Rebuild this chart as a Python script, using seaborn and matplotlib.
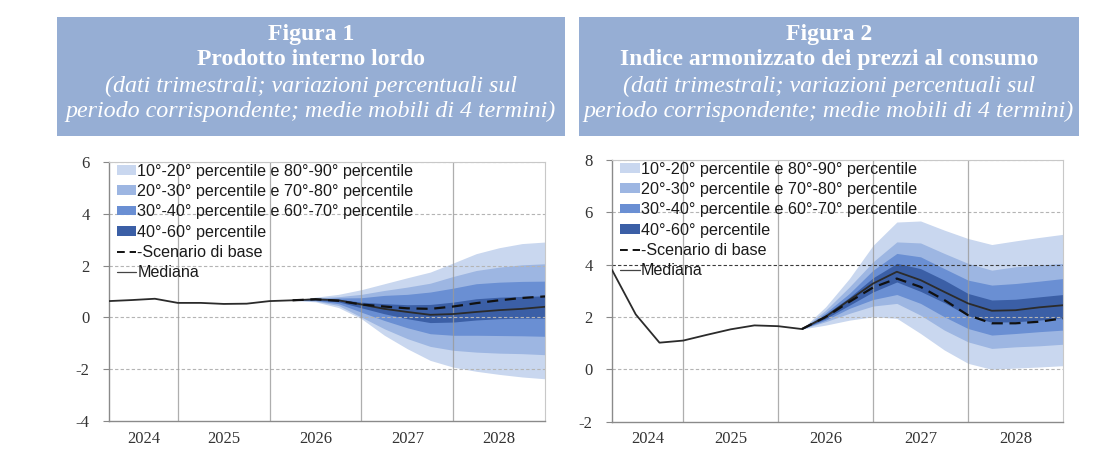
import numpy as np
import pandas as pd
import matplotlib
matplotlib.use("Agg")
import matplotlib.pyplot as plt
import seaborn as sns
from matplotlib.patches import Patch, Rectangle
from matplotlib.lines import Line2D

# ---------------- data ----------------
quarters = [f"{y}Q{q}" for y in range(2024, 2029) for q in range(1, 5)]  # 20 quarters
years = ["2024", "2025", "2026", "2027", "2028"]
fan_start = 8  # index of first quarter with fan chart (2026Q1)

# Figura 1 - PIL
gdp_median = [0.63, 0.67, 0.72, 0.56, 0.56, 0.52, 0.53, 0.63, 0.66, 0.70,
              0.66, 0.50, 0.33, 0.21, 0.10, 0.13, 0.21, 0.28, 0.33, 0.41]
gdp_base = [0.66, 0.70, 0.64, 0.50, 0.42, 0.35, 0.33, 0.42, 0.55, 0.66, 0.75, 0.81]
gdp_p90 = [0.66, 0.78, 0.89, 1.07, 1.30, 1.53, 1.75, 2.10, 2.46, 2.69, 2.85, 2.91]
gdp_p80 = [0.66, 0.75, 0.80, 0.89, 1.04, 1.17, 1.32, 1.58, 1.81, 1.94, 2.03, 2.07]
gdp_p70 = [0.66, 0.73, 0.75, 0.76, 0.85, 0.89, 0.98, 1.13, 1.30, 1.36, 1.39, 1.40]
gdp_p60 = [0.66, 0.71, 0.70, 0.59, 0.53, 0.49, 0.50, 0.59, 0.72, 0.78, 0.81, 0.83]
gdp_p40 = [0.66, 0.67, 0.60, 0.37, 0.14, -0.05, -0.20, -0.18, -0.10, -0.05, -0.03, -0.03]
gdp_p30 = [0.66, 0.65, 0.53, 0.20, -0.12, -0.40, -0.63, -0.69, -0.69, -0.70, -0.71, -0.73]
gdp_p20 = [0.66, 0.63, 0.46, 0.01, -0.44, -0.82, -1.12, -1.27, -1.34, -1.38, -1.40, -1.44]
gdp_p10 = [0.66, 0.60, 0.38, -0.05, -0.69, -1.21, -1.66, -1.92, -2.08, -2.20, -2.30, -2.37]

# Figura 2 - IPCA
hicp_median = [3.80, 2.10, 1.02, 1.10, 1.32, 1.53, 1.68, 1.65, 1.54, 2.01,
               2.65, 3.28, 3.73, 3.41, 2.96, 2.52, 2.24, 2.26, 2.37, 2.45]
hicp_base = [1.54, 2.00, 2.58, 3.13, 3.47, 3.15, 2.65, 2.07, 1.76, 1.76, 1.82, 1.95]
hicp_p90 = [1.54, 2.39, 3.47, 4.74, 5.63, 5.67, 5.32, 5.00, 4.77, 4.91, 5.04, 5.16]
hicp_p80 = [1.54, 2.26, 3.15, 4.11, 4.87, 4.83, 4.43, 4.05, 3.79, 3.92, 3.98, 4.05]
hicp_p70 = [1.54, 2.16, 2.90, 3.79, 4.43, 4.30, 3.85, 3.41, 3.22, 3.28, 3.37, 3.47]
hicp_p60 = [1.54, 2.10, 2.75, 3.50, 4.05, 3.85, 3.41, 2.90, 2.65, 2.68, 2.77, 2.86]
hicp_p40 = [1.54, 1.94, 2.45, 2.96, 3.34, 2.98, 2.55, 2.05, 1.80, 1.82, 1.88, 1.98]
hicp_p30 = [1.54, 1.88, 2.33, 2.67, 2.86, 2.52, 2.01, 1.56, 1.31, 1.37, 1.44, 1.50]
hicp_p20 = [1.54, 1.82, 2.14, 2.42, 2.52, 2.07, 1.50, 1.05, 0.80, 0.86, 0.90, 0.96]
hicp_p10 = [1.54, 1.69, 1.88, 2.01, 1.95, 1.37, 0.74, 0.23, 0.00, 0.05, 0.09, 0.14]

legend_labels = ["10°-20° percentile e 80°-90° percentile",
                 "20°-30° percentile e 70°-80° percentile",
                 "30°-40° percentile e 60°-70° percentile",
                 "40°-60° percentile",
                 "-Scenario di base",
                 "Mediana"]

titles = [("Figura 1", "Prodotto interno lordo"),
          ("Figura 2", "Indice armonizzato dei prezzi al consumo")]
subtitle = ["(dati trimestrali; variazioni percentuali sul",
            "periodo corrispondente; medie mobili di 4 termini)"]

# ---------------- style ----------------
sns.set_theme(style="white")
plt.rcParams["font.family"] = ["Liberation Serif", "DejaVu Serif"]

band_colors = ["#c9d7ef", "#9db6e2", "#6a8fd3", "#3b5fa6"]
header_color = "#96aed4"
W, H = 1107, 475

fig = plt.figure(figsize=(W / 100, H / 100), dpi=100)


def fx(px):
    return px / W


def fy(py):
    return 1 - py / H


ax1 = fig.add_axes([fx(109), fy(421), (545 - 109) / W, (421 - 162) / H])
ax2 = fig.add_axes([fx(612), fy(421.7), (1063 - 612) / W, (421.7 - 160) / H])


def draw(ax, median, base, bands, ylim, dark_line_at=None):
    x_all = np.arange(len(quarters))
    xf = x_all[fan_start:]
    p10, p20, p30, p40, p60, p70, p80, p90 = bands
    ax.fill_between(xf, p10, p90, color=band_colors[0], lw=0, zorder=1)
    ax.fill_between(xf, p20, p80, color=band_colors[1], lw=0, zorder=1.1)
    ax.fill_between(xf, p30, p70, color=band_colors[2], lw=0, zorder=1.2)
    ax.fill_between(xf, p40, p60, color=band_colors[3], lw=0, zorder=1.3)

    # horizontal grid
    for yv in range(ylim[0], ylim[1] + 1, 2):
        if yv in (ylim[0],):
            continue
        col, lw = "#b4b4b4", 0.8
        if dark_line_at is not None and yv == dark_line_at:
            col, lw = "#3a3a3a", 0.8
        ax.axhline(yv, color=col, lw=lw, ls=(0, (3, 2)), zorder=2)
    # vertical year separators
    for xv in [3, 7, 11, 15]:
        ax.axvline(xv, color="#9a9a9a", lw=0.9, alpha=0.8, zorder=2)

    df_med = pd.DataFrame({"x": x_all, "y": median})
    df_base = pd.DataFrame({"x": xf, "y": base})
    sns.lineplot(data=df_med, x="x", y="y", ax=ax, color="#2b2b2b", lw=1.3,
                 zorder=4, legend=False)
    sns.lineplot(data=df_base, x="x", y="y", ax=ax, color="#111111", lw=1.6,
                 zorder=4, legend=False)
    ax.lines[-1].set_dashes([5, 3])

    ax.set_xlim(0, len(quarters) - 1)
    ax.set_ylim(*ylim)
    ax.set_xlabel("")
    ax.set_ylabel("")
    ax.set_yticks(range(ylim[0], ylim[1] + 1, 2))
    ax.set_yticklabels([str(v) for v in range(ylim[0], ylim[1] + 1, 2)])
    ax.set_xticks([1.5, 5, 9, 13, 17])
    ax.set_xticklabels(years)
    ax.tick_params(axis="x", length=0, pad=7, labelsize=12, colors="#333333")
    ax.tick_params(axis="y", length=4, width=0.8, color="#888888", pad=10,
                   labelsize=12, colors="#333333", left=True)
    for s in ["top", "right"]:
        ax.spines[s].set_color("#c8c8c8")
        ax.spines[s].set_linewidth(0.8)
    for s in ["left", "bottom"]:
        ax.spines[s].set_color("#8a8a8a")
        ax.spines[s].set_linewidth(1.0)
    ax.set_facecolor("white")

    handles = [Patch(facecolor=c, edgecolor="none") for c in band_colors]
    handles += [Line2D([], [], color="#111111", lw=1.4, dashes=[4, 2.5]),
                Line2D([], [], color="#444444", lw=0.9)]
    leg = ax.legend(handles, legend_labels, loc="upper left",
                    bbox_to_anchor=(0.015, 1.0), frameon=False,
                    prop={"family": "Liberation Sans", "size": 11.6},
                    handlelength=1.2, handleheight=0.55, handletextpad=0.05,
                    labelspacing=0.33, borderpad=0.1, borderaxespad=0)
    for t in leg.get_texts():
        t.set_color("#1a1a1a")
    leg.set_zorder(5)


draw(ax1, gdp_median, gdp_base,
     (gdp_p10, gdp_p20, gdp_p30, gdp_p40, gdp_p60, gdp_p70, gdp_p80, gdp_p90),
     (-4, 6))
draw(ax2, hicp_median, hicp_base,
     (hicp_p10, hicp_p20, hicp_p30, hicp_p40, hicp_p60, hicp_p70, hicp_p80, hicp_p90),
     (-2, 8), dark_line_at=4)

# ---------------- header boxes ----------------
boxes = [(57, 565), (579, 1079)]
for (x0, x1), (fig_t, name) in zip(boxes, titles):
    fig.patches.append(Rectangle((fx(x0), fy(136)), (x1 - x0) / W, 119 / H,
                                 transform=fig.transFigure,
                                 facecolor=header_color, edgecolor="none",
                                 zorder=0))
    cx = fx((x0 + x1) / 2)
    fig.text(cx, fy(40), fig_t, ha="center", va="baseline", color="white",
             fontsize=17, fontweight="bold", family="Liberation Serif")
    fig.text(cx, fy(65), name, ha="center", va="baseline", color="white",
             fontsize=17, fontweight="bold", family="Liberation Serif")
    fig.text(cx, fy(91.5), subtitle[0], ha="center", va="baseline",
             color="white", fontsize=17.3, style="italic",
             family="Liberation Serif")
    fig.text(cx, fy(116.5), subtitle[1], ha="center", va="baseline",
             color="white", fontsize=17.3, style="italic",
             family="Liberation Serif")

fig.savefig("out.png", dpi=100, facecolor="white")
